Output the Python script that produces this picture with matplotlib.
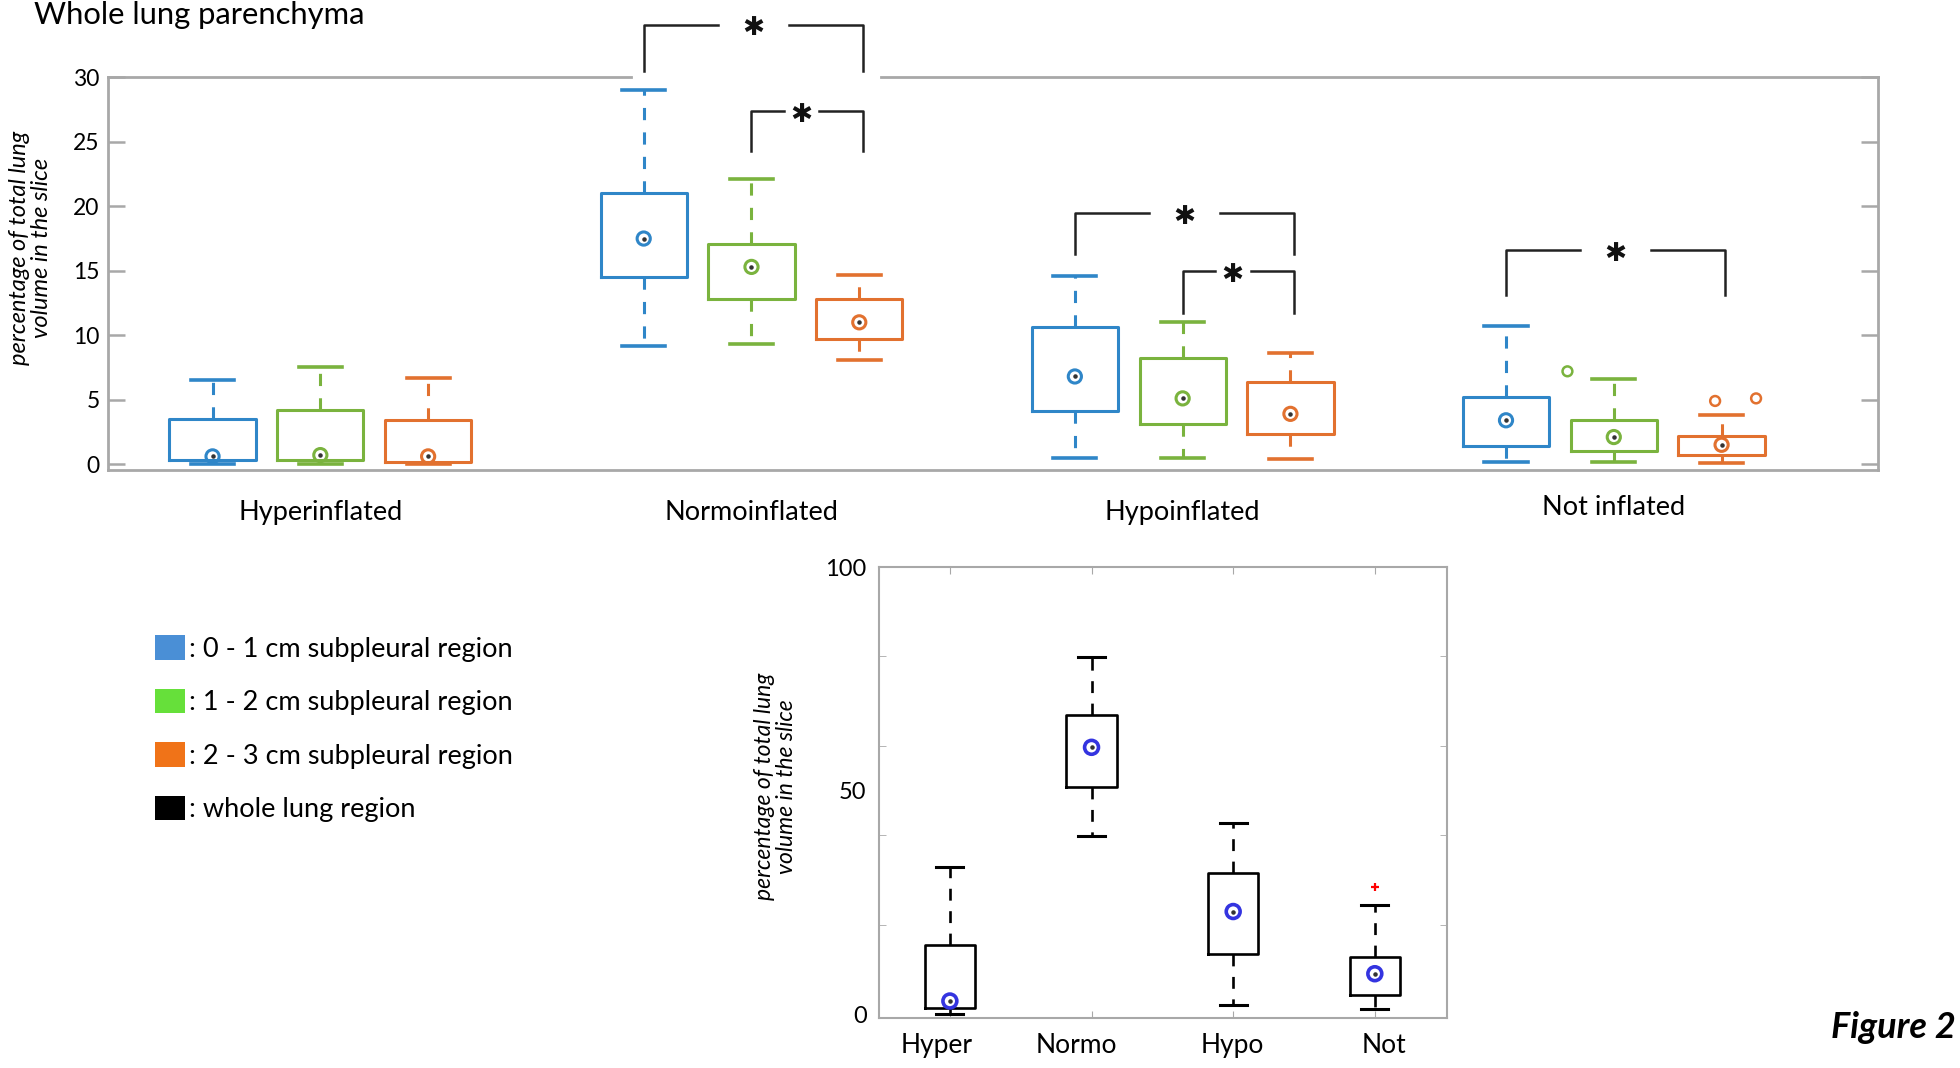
import matplotlib
matplotlib.use('Agg')
import matplotlib.pyplot as plt
import matplotlib.transforms as mtransforms
from matplotlib.patches import Patch
from matplotlib.ticker import FixedLocator

plt.rcParams['font.family'] = ['Lato', 'DejaVu Sans']

# ---- top panel data: per group, per region (0-1, 1-2, 2-3 cm) ----
groups = ['Hyperinflated', 'Normoinflated', 'Hypoinflated', 'Not inflated']
regions = [': 0 - 1 cm subpleural region', ': 1 - 2 cm subpleural region',
           ': 2 - 3 cm subpleural region', ': whole lung region']

whis_lo = [[0.0, 0.0, 0.0], [9.2, 9.3, 8.1], [0.5, 0.5, 0.4], [0.2, 0.2, 0.1]]
q1 = [[0.3, 0.3, 0.2], [14.5, 12.8, 9.7], [4.1, 3.1, 2.3], [1.4, 1.0, 0.7]]
median = [[0.6, 0.7, 0.6], [17.5, 15.3, 11.0], [6.8, 5.1, 3.9], [3.4, 2.1, 1.5]]
q3 = [[3.5, 4.2, 3.4], [21.0, 17.1, 12.8], [10.6, 8.2, 6.4], [5.2, 3.4, 2.2]]
whis_hi = [[6.5, 7.5, 6.7], [29.0, 22.1, 14.7], [14.6, 11.0, 8.6], [10.7, 6.6, 3.8]]

# outliers (group, region, value, horizontal jitter)
outliers = [(3, 1, 7.2, -0.43), (3, 2, 4.9, -0.06), (3, 2, 5.1, 0.32)]

# significance brackets: (group, region a, region b, bar level, leg end)
brackets = [(1, 0, 2, 34.1, 30.5), (1, 1, 2, 27.4, 24.3),
            (2, 0, 2, 19.5, 16.3), (2, 1, 2, 15.0, 11.7),
            (3, 0, 2, 16.6, 13.1)]

# ---- bottom panel data: whole lung ----
short = ['Hyper', 'Normo', 'Hypo', 'Not']
w_lo = [0.0, 39.8, 2.1, 1.2]
w_q1 = [1.35, 50.9, 13.4, 4.4]
w_med = [3.0, 59.7, 23.0, 9.1]
w_q3 = [15.6, 66.9, 31.5, 12.9]
w_hi = [32.9, 79.8, 42.8, 24.4]
w_out = [[], [], [], [28.5]]

colors = ['#2f86c8', '#7ab33e', '#e2712f']
legend_colors = ['#4a8fd6', '#66e03a', '#f07318', '#000000']
axis_gray = '#a8a8a8'

fig = plt.figure(figsize=(19.6, 10.68), dpi=100)

# ================= top panel =================
ax = fig.add_axes([0.0551, 0.560, 0.903, 0.3675])

def pos(g, r):
    return 4 * (g + 1) + (r - 1)

for r in range(3):
    stats = []
    for g in range(4):
        stats.append(dict(whislo=whis_lo[g][r], q1=q1[g][r], med=median[g][r],
                          q3=q3[g][r], whishi=whis_hi[g][r], fliers=[]))
    c = colors[r]
    ax.bxp(stats, positions=[pos(g, r) for g in range(4)], widths=0.8,
           capwidths=0.4, showfliers=False,
           boxprops=dict(color=c, linewidth=2.2),
           whiskerprops=dict(color=c, linewidth=2.2, linestyle=(0, (4, 4))),
           capprops=dict(color=c, linewidth=2.6),
           medianprops=dict(linestyle='none'))
    xs = [pos(g, r) for g in range(4)]
    ys = [median[g][r] for g in range(4)]
    ax.scatter(xs, ys, s=90, facecolors='none', edgecolors=c, linewidths=2.2, zorder=4)
    ax.scatter(xs, ys, s=5, color='#333333', zorder=5)

for g, r, v, dx in outliers:
    ax.scatter(pos(g, r) + dx, v, s=50, facecolors='none', edgecolors=colors[r],
               linewidths=1.8, zorder=4)

ax.set_xlim(2.03, 18.45)
ax.set_ylim(-0.45, 30)
ax.set_xticks([])
ax.set_yticks(range(0, 31, 5))
ax.tick_params(axis='y', direction='in', length=12, width=1.8, color=axis_gray,
               left=True, right=True, labelsize=16.5, pad=6)
for s in ['left', 'right', 'bottom']:
    ax.spines[s].set_color(axis_gray)
    ax.spines[s].set_linewidth(2)
ax.spines['top'].set_visible(False)

# top spine with a gap under the first bracket
tr = mtransforms.blended_transform_factory(ax.transData, ax.transAxes)
gx1 = pos(1, 0) - 0.12
gx2 = pos(1, 2) + 0.2
ax.plot([2.03, gx1], [1, 1], color=axis_gray, lw=2, transform=tr, clip_on=False)
ax.plot([gx2, 18.45], [1, 1], color=axis_gray, lw=2, transform=tr, clip_on=False)

for g, ra, rb, ytop, yleg in brackets:
    xa, xb = pos(g, ra), pos(g, rb) + 0.03
    xm = (xa + xb) / 2 - 0.05 * (rb - ra == 1)
    half_gap = 0.165 * (rb - ra)
    ax.plot([xa, xa, xm - half_gap], [yleg, ytop, ytop], color='#222222', lw=1.8,
            clip_on=False, solid_joinstyle='round')
    ax.plot([xm + half_gap, xb, xb], [ytop, ytop, yleg], color='#222222', lw=1.8,
            clip_on=False, solid_joinstyle='round')
    ax.text(xm, ytop - 0.3, '✱', ha='center', va='center', fontsize=19,
            family='DejaVu Sans', color='#111111')

label_y = [-0.108, -0.108, -0.108, -0.096]
for g, name in enumerate(groups):
    ax.text(pos(g, 1), label_y[g], name, transform=tr, ha='center', va='center',
            fontsize=19.5)

ax.set_ylabel('percentage of total lung\nvolume in the slice', fontsize=17,
              style='italic', linespacing=1.05)
ax.yaxis.set_label_coords(-0.0315, 0.566)

fig.text(0.0173, 0.986, 'Whole lung parenchyma', fontsize=22.3, ha='left', va='center')

# ================= legend =================
handles = [Patch(facecolor=c, edgecolor='none') for c in legend_colors]
fig.legend(handles, regions, loc='upper left', bbox_to_anchor=(0.079, 0.405),
           frameon=False, fontsize=19.5, handlelength=1.1, handleheight=1.0,
           handletextpad=0.15, labelspacing=1.0, borderaxespad=0, borderpad=0)

# ================= bottom panel =================
ax2 = fig.add_axes([0.4485, 0.0468, 0.2898, 0.4223])
stats2 = []
for i in range(4):
    stats2.append(dict(whislo=w_lo[i], q1=w_q1[i], med=w_med[i], q3=w_q3[i],
                       whishi=w_hi[i], fliers=w_out[i]))
ax2.bxp(stats2, positions=[1, 2, 3, 4], widths=0.355, capwidths=0.19,
        boxprops=dict(color='black', linewidth=1.9),
        whiskerprops=dict(color='black', linewidth=1.9, linestyle=(0, (4.5, 4))),
        capprops=dict(color='black', linewidth=2.2),
        medianprops=dict(linestyle='none'),
        flierprops=dict(marker='+', markeredgecolor='red', markersize=6,
                        markeredgewidth=1.6))
ax2.scatter([1, 2, 3, 4], w_med, s=100, facecolors='none', edgecolors='#3434e0',
            linewidths=2.6, zorder=4)
ax2.scatter([1, 2, 3, 4], w_med, s=5, color='#333333', zorder=5)

ax2.set_xlim(0.5, 4.51)
ax2.set_ylim(-0.8, 100)
ax2.set_xticks([1, 2, 3, 4])
ax2.set_xticklabels([])
# category labels sit slightly off the tick marks in the original
label_shift = [-13, -15, -1, 9]
tr2 = mtransforms.blended_transform_factory(ax2.transData, ax2.transAxes)
for i, (name, dx) in enumerate(zip(short, label_shift)):
    off = mtransforms.ScaledTranslation(dx / 100, -15 / 100, fig.dpi_scale_trans)
    ax2.text(i + 1, 0, name, transform=tr2 + off, ha='center', va='top',
             fontsize=19)
ax2.set_yticks([0, 50, 100])
ax2.set_yticklabels(['0', '50', '100'], fontsize=17)
ax2.yaxis.set_minor_locator(FixedLocator([20, 40, 60, 80]))
ax2.tick_params(axis='y', which='major', length=0, pad=9)
ax2.tick_params(axis='y', which='minor', direction='in', left=True, right=True,
                length=5, color=axis_gray)
ax2.tick_params(axis='x', direction='in', top=True, bottom=True, length=5,
                color=axis_gray)
for s in ax2.spines.values():
    s.set_color(axis_gray)
    s.set_linewidth(1.5)
ax2.set_ylabel('percentage of total lung\nvolume in the slice', fontsize=16.5,
               style='italic', linespacing=1.05)
ax2.yaxis.set_label_coords(-0.144, 0.513)

fig.text(0.966, 0.038, 'Figure 2', fontsize=26, style='italic', weight='bold',
         ha='center', va='center')

fig.savefig('out.png', dpi=100)
